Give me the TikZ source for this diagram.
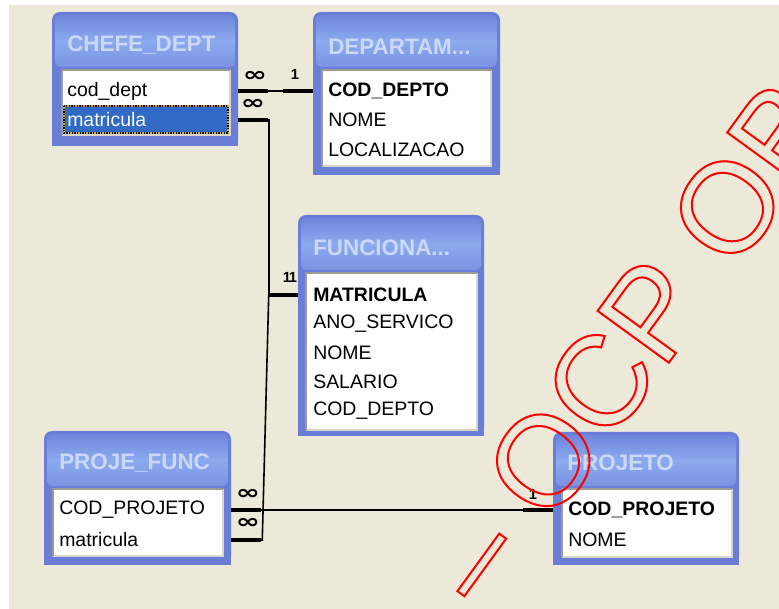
\documentclass[tikz,border=0pt]{standalone}
\usepackage{fontspec}
\usepackage{amsmath}
\usepackage{tikz}
\usetikzlibrary{fit,calc}
\setmainfont{Liberation Sans}
\newfontfamily\marcafont{Liberation Sans}
\newfontfamily\simbolo{DejaVu Sans}

\definecolor{corfundo}{HTML}{ECE9D8}
\definecolor{cormoldura}{HTML}{6A7ED8}
\definecolor{corbarraalta}{HTML}{6F86DC}
\definecolor{corbarrameio}{HTML}{8CAAEE}
\definecolor{corbarrabaixa}{HTML}{7A93E2}
\definecolor{cortitulo}{HTML}{CBD9F8}
\definecolor{corselecao}{HTML}{316AC5}
\definecolor{corpontos}{HTML}{D6AA3C}
\definecolor{corborda}{HTML}{9D9C94}
\definecolor{corbordaclara}{HTML}{D8D5CC}

% texto so com contorno (modo 1 Tr do PDF)
\newcommand\contorno[1]{\special{pdf:literal direct 1 Tr 1.5 w}#1\special{pdf:literal direct 0 Tr}}

\tikzset{
  tabela/.style={fill=cormoldura, rounded corners=6pt, inner sep=0pt},
  barra/.style={top color=corbarraalta, bottom color=corbarrabaixa, middle color=corbarrameio, rounded corners=4pt},
  titulo/.style={anchor=west, inner sep=0pt, text=cortitulo, font=\fontsize{16.8}{18}\selectfont\bfseries},
  lista/.style={fill=white},
  inset/.style={draw=corborda, line width=1.5pt},
  insetclaro/.style={draw=corbordaclara, line width=1pt},
  campo/.style={anchor=west, inner sep=0pt, font=\fontsize{14.6}{16}\selectfont},
  chave/.style={campo, font=\fontsize{14.6}{16}\selectfont\bfseries},
  grossa/.style={line width=3pt},
  fina/.style={line width=1.2pt},
  muitos/.style={font=\simbolo\bfseries\fontsize{15}{15}\selectfont, xscale=1.45, inner sep=0pt},
  um/.style={font=\bfseries\fontsize{11}{11}\selectfont, inner sep=0pt},
  marca/.style={text=red, inner sep=0pt, anchor=base west, rotate=54, font=\marcafont\fontsize{96}{100}\selectfont},
}

\begin{document}
\begin{tikzpicture}[x=0.75pt, y=-0.75pt]
        \useasboundingbox (0, 0) rectangle (779, 609);
        \clip (0, 0) rectangle (779, 609);
        \fill[white] (0, 0) rectangle (779, 609);
        \fill[corfundo] (9, 5) rectangle (779, 609);

        % CHEFE_DEPT
        \node (chefe) [tabela, fit={(52, 12) (238, 146)}] {};
        \fill[cormoldura] (chefe.west) rectangle (chefe.south east);
        \shade[barra] (55, 15) rectangle (235, 67);
        \node (chefetit) at (67, 45) [titulo] {CHEFE\_DEPT};
        \fill[lista] (62, 70) rectangle (230, 135);
        \draw[insetclaro] (62, 135) -| (230, 70);
        \draw[inset] (62, 135) |- (230, 70);
        \fill[corselecao] (64, 106) rectangle (228, 133);
        \draw[corpontos, line width=1pt] (64, 106) rectangle (228, 133);
        \draw[densely dotted, line width=1pt] (64, 106) rectangle (228, 133);
        \node (chefecod) at (67, 91) [campo] {cod\_dept};
        \node (chefemat) at (67, 120) [campo, text=white] {matricula};

        % DEPARTAMENTO
        \node (depto) [tabela, fit={(313, 12) (500, 175)}] {};
        \fill[cormoldura] (depto.west) rectangle (depto.south east);
        \shade[barra] (316, 15) rectangle (497, 67);
        \node (deptotit) at (328, 47) [titulo] {DEPARTAM...};
        \fill[lista] (322, 70) rectangle (491, 166);
        \draw[insetclaro] (322, 166) -| (491, 70);
        \draw[inset] (322, 166) |- (491, 70);
        \node (deptocod) at (328, 91) [chave] {COD\_DEPTO};
        \node (deptonome) at (328, 120) [campo] {NOME};
        \node (deptoloc) at (328, 150) [campo] {LOCALIZACAO};

        % FUNCIONARIO
        \node (func) [tabela, fit={(298, 215) (484, 436)}] {};
        \fill[cormoldura] (func.west) rectangle (func.south east);
        \shade[barra] (301, 218) rectangle (481, 270);
        \node (functit) at (313, 248) [titulo] {FUNCIONA...};
        \fill[lista] (306, 273) rectangle (477, 430);
        \draw[insetclaro] (306, 430) -| (477, 273);
        \draw[inset] (306, 430) |- (477, 273);
        \node (funcmat) at (313, 295) [chave] {MATRICULA};
        \node (funcano) at (313, 324) [campo] {ANO\_SERVICO};
        \node (funcnome) at (313, 353) [campo] {NOME};
        \node (funcsal) at (313, 382) [campo] {SALARIO};
        \node (funcdepto) at (313, 411) [campo] {COD\_DEPTO};

        % PROJE_FUNC
        \node (pf) [tabela, fit={(44, 431) (231, 565)}] {};
        \fill[cormoldura] (pf.west) rectangle (pf.south east);
        \shade[barra] (47, 434) rectangle (228, 486);
        \node (pftit) at (59, 463) [titulo] {PROJE\_FUNC};
        \fill[lista] (53, 489) rectangle (223, 556);
        \draw[insetclaro] (53, 556) -| (223, 489);
        \draw[inset] (53, 556) |- (223, 489);
        \node (pfcod) at (59, 510) [campo] {COD\_PROJETO};
        \node (pfmat) at (59, 540) [campo] {matricula};

        % PROJETO
        \node (projeto) [tabela, fit={(553, 432) (739, 565)}] {};
        \fill[cormoldura] (projeto.west) rectangle (projeto.south east);
        \shade[barra] (556, 435) rectangle (736, 486);
        \node (projetotit) at (567, 463) [titulo] {PROJETO};
        \fill[lista] (562, 489) rectangle (732, 557);
        \draw[insetclaro] (562, 557) -| (732, 489);
        \draw[inset] (562, 557) |- (732, 489);
        \node (projetocod) at (568, 510) [chave] {COD\_PROJETO};
        \node (projetonome) at (568, 540) [campo] {NOME};

        % relacionamentos
        \draw[fina] (chefe.east |- chefecod) -- (depto.west |- deptocod);
        \draw[grossa] (chefe.east |- chefecod) -- ++(30, 0);
        \draw[grossa] (depto.west |- deptocod) -- ++(-30, 0);

        \draw[fina] (chefe.east |- chefemat) -- ++(31, 0) |- (func.west |- funcmat);
        \draw[grossa] (chefe.east |- chefemat) -- ++(30, 0);
        \draw[grossa] (func.west |- funcmat) -- ++(-30, 0);

        \draw[fina] (pf.east |- pfmat) -- ++(31, 0) -- ($(func.west |- funcmat) + (-29, 0)$);
        \draw[grossa] (pf.east |- pfmat) -- ++(30, 0);

        \draw[fina] (pf.east |- pfcod) -- (projeto.west |- projetocod);
        \draw[grossa] (pf.east |- pfcod) -- ++(30, 0);
        \draw[grossa] (projeto.west |- projetocod) -- ++(-30, 0);

        \node (n1) at (255, 76) [muitos] {∞};
        \node (n2) at (253, 104) [muitos] {∞};
        \node (n3) at (248, 494) [muitos] {∞};
        \node (n4) at (248, 523) [muitos] {∞};
        \node (u1) at (295, 74) [um] {1};
        \node (u2) at (287, 277) [um] {1};
        \node (u3) at (293, 277) [um] {1};
        \node (u4) at (533, 494) [um] {1};

        % marca d'agua
        \node (marca) at (487, 613) [marca] {\contorno{– OCP OB}};
\end{tikzpicture}
\end{document}
